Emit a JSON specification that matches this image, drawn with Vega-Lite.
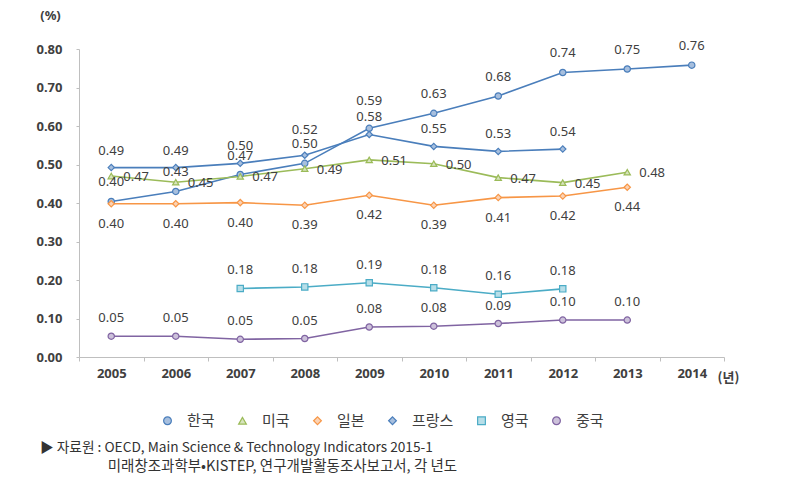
{
  "$schema": "https://vega.github.io/schema/vega-lite/v6.json",
  "width": 645,
  "height": 308,
  "autosize": {"type": "none"},
  "padding": {"left": 79, "top": 49, "right": 63, "bottom": 141},
  "background": "white",
  "title": {
    "text": "▶ 자료원 : OECD, Main Science & Technology Indicators 2015-1",
    "subtitle": "\u200b\u3000\u3000\u3000\u3000\u00a0\u00a0\u00a0미래창조과학부•KISTEP, 연구개발활동조사보고서, 각 년도",
    "orient": "bottom",
    "anchor": "start",
    "frame": "group",
    "dx": -39,
    "offset": 12,
    "font": "Noto Sans CJK KR",
    "fontSize": 13.7,
    "fontWeight": "normal",
    "color": "#333333",
    "subtitleFont": "Noto Sans CJK KR",
    "subtitleFontSize": 14.5,
    "subtitleColor": "#333333",
    "subtitlePadding": 5
  },
  "data": {
    "values": [
      {"country": "한국", "year": "2005", "value": 0.404},
      {"country": "한국", "year": "2006", "value": 0.43},
      {"country": "한국", "year": "2007", "value": 0.474},
      {"country": "한국", "year": "2008", "value": 0.503},
      {"country": "한국", "year": "2009", "value": 0.594},
      {"country": "한국", "year": "2010", "value": 0.633},
      {"country": "한국", "year": "2011", "value": 0.678},
      {"country": "한국", "year": "2012", "value": 0.739},
      {"country": "한국", "year": "2013", "value": 0.748},
      {"country": "한국", "year": "2014", "value": 0.758},
      {"country": "미국", "year": "2005", "value": 0.47},
      {"country": "미국", "year": "2006", "value": 0.454},
      {"country": "미국", "year": "2007", "value": 0.469},
      {"country": "미국", "year": "2008", "value": 0.489},
      {"country": "미국", "year": "2009", "value": 0.512},
      {"country": "미국", "year": "2010", "value": 0.502},
      {"country": "미국", "year": "2011", "value": 0.466},
      {"country": "미국", "year": "2012", "value": 0.453},
      {"country": "미국", "year": "2013", "value": 0.48},
      {"country": "일본", "year": "2005", "value": 0.398},
      {"country": "일본", "year": "2006", "value": 0.398},
      {"country": "일본", "year": "2007", "value": 0.401},
      {"country": "일본", "year": "2008", "value": 0.394},
      {"country": "일본", "year": "2009", "value": 0.42},
      {"country": "일본", "year": "2010", "value": 0.394},
      {"country": "일본", "year": "2011", "value": 0.414},
      {"country": "일본", "year": "2012", "value": 0.418},
      {"country": "일본", "year": "2013", "value": 0.441},
      {"country": "프랑스", "year": "2005", "value": 0.492},
      {"country": "프랑스", "year": "2006", "value": 0.492},
      {"country": "프랑스", "year": "2007", "value": 0.503},
      {"country": "프랑스", "year": "2008", "value": 0.524},
      {"country": "프랑스", "year": "2009", "value": 0.578},
      {"country": "프랑스", "year": "2010", "value": 0.547},
      {"country": "프랑스", "year": "2011", "value": 0.534},
      {"country": "프랑스", "year": "2012", "value": 0.54},
      {"country": "영국", "year": "2007", "value": 0.178},
      {"country": "영국", "year": "2008", "value": 0.182},
      {"country": "영국", "year": "2009", "value": 0.193},
      {"country": "영국", "year": "2010", "value": 0.18},
      {"country": "영국", "year": "2011", "value": 0.163},
      {"country": "영국", "year": "2012", "value": 0.177},
      {"country": "중국", "year": "2005", "value": 0.054},
      {"country": "중국", "year": "2006", "value": 0.054},
      {"country": "중국", "year": "2007", "value": 0.046},
      {"country": "중국", "year": "2008", "value": 0.048},
      {"country": "중국", "year": "2009", "value": 0.078},
      {"country": "중국", "year": "2010", "value": 0.08},
      {"country": "중국", "year": "2011", "value": 0.087},
      {"country": "중국", "year": "2012", "value": 0.096},
      {"country": "중국", "year": "2013", "value": 0.096}
    ]
  },
  "encoding": {
    "x": {
      "field": "year",
      "type": "ordinal",
      "scale": {"type": "band", "paddingInner": 0, "paddingOuter": 0},
      "axis": {
        "title": "(년)",
        "titleAngle": 0,
        "titleX": 649,
        "titleY": 20,
        "titleAlign": "center",
        "titleBaseline": "middle",
        "titleFont": "Noto Sans CJK KR",
        "titleFontSize": 13,
        "titleFontWeight": "bold",
        "titleColor": "#404040",
        "labelAngle": 0,
        "tickBand": "extent",
        "tickSize": 4,
        "tickColor": "#BFBFBF",
        "domainColor": "#BFBFBF",
        "labelPadding": 6,
        "labelFont": "Noto Sans",
        "labelFontSize": 13,
        "labelFontWeight": "bold",
        "labelColor": "#404040"
      }
    },
    "y": {
      "field": "value",
      "type": "quantitative",
      "scale": {"domain": [0, 0.8], "nice": false},
      "axis": {
        "title": "(%)",
        "titleAngle": 0,
        "titleX": -29,
        "titleY": -34,
        "titleAlign": "center",
        "titleBaseline": "middle",
        "titleFont": "Noto Sans",
        "titleFontSize": 13,
        "titleFontWeight": "bold",
        "titleColor": "#404040",
        "values": [0, 0.1, 0.2, 0.3, 0.4, 0.5, 0.6, 0.7, 0.8],
        "format": ".2f",
        "grid": false,
        "tickSize": 3,
        "tickColor": "#BFBFBF",
        "domainColor": "#BFBFBF",
        "labelPadding": 14,
        "labelFont": "Noto Sans",
        "labelFontSize": 13,
        "labelFontWeight": "bold",
        "labelColor": "#404040"
      }
    }
  },
  "layer": [
    {
      "mark": {"type": "line", "strokeWidth": 1.6},
      "encoding": {
        "stroke": {
          "field": "country",
          "type": "nominal",
          "scale": {
            "domain": ["한국", "미국", "일본", "프랑스", "영국", "중국"],
            "range": ["#4A7EBB", "#9BBB59", "#F79646", "#4A7EBB", "#4BACC6", "#8064A2"]
          }
        },
        "detail": {"field": "country"}
      }
    },
    {
      "mark": {"type": "point", "size": 40, "strokeWidth": 1.2, "opacity": 1, "filled": false},
      "encoding": {
        "stroke": {
          "field": "country",
          "type": "nominal",
          "legend": {
            "title": null,
            "orient": "none",
            "direction": "horizontal",
            "legendX": 81,
            "legendY": 364,
            "padding": 0,
            "symbolSize": 60,
            "symbolStrokeWidth": 1.2,
            "labelFont": "Noto Sans CJK KR",
            "labelFontSize": 15,
            "labelColor": "#404040",
            "labelOffset": 12,
            "columnPadding": 20
          }
        },
        "fill": {
          "field": "country",
          "type": "nominal",
          "scale": {
            "domain": ["한국", "미국", "일본", "프랑스", "영국", "중국"],
            "range": ["#A7BFDE", "#D7E4BD", "#FBD3B5", "#A7BFDE", "#B7DEE8", "#CCC1DA"]
          }
        },
        "shape": {
          "field": "country",
          "type": "nominal",
          "legend": null,
          "scale": {
            "domain": ["한국", "미국", "일본", "프랑스", "영국", "중국"],
            "range": ["circle", "triangle-up", "diamond", "diamond", "square", "circle"]
          }
        }
      }
    },
    {
      "transform": [{"filter": "datum.country === '한국' && datum.year !== '2009'"}],
      "mark": {"type": "text", "dy": -19, "font": "Noto Sans", "fontSize": 13, "color": "#404040", "baseline": "middle"},
      "encoding": {"text": {"field": "value", "type": "quantitative", "format": ".2f"}}
    },
    {
      "transform": [{"filter": "datum.country === '한국' && datum.year === '2009'"}],
      "mark": {"type": "text", "dy": -27, "font": "Noto Sans", "fontSize": 13, "color": "#404040", "baseline": "middle"},
      "encoding": {"text": {"field": "value", "type": "quantitative", "format": ".2f"}}
    },
    {
      "transform": [{"filter": "datum.country === '프랑스' && datum.year !== '2008'"}],
      "mark": {"type": "text", "dy": -17, "font": "Noto Sans", "fontSize": 13, "color": "#404040", "baseline": "middle"},
      "encoding": {"text": {"field": "value", "type": "quantitative", "format": ".2f"}}
    },
    {
      "transform": [{"filter": "datum.country === '프랑스' && datum.year === '2008'"}],
      "mark": {"type": "text", "dy": -25, "font": "Noto Sans", "fontSize": 13, "color": "#404040", "baseline": "middle"},
      "encoding": {"text": {"field": "value", "type": "quantitative", "format": ".2f"}}
    },
    {
      "transform": [{"filter": "datum.country === '미국'"}],
      "mark": {"type": "text", "dx": 12, "dy": 1, "align": "left", "font": "Noto Sans", "fontSize": 13, "color": "#404040", "baseline": "middle"},
      "encoding": {"text": {"field": "value", "type": "quantitative", "format": ".2f"}}
    },
    {
      "transform": [{"filter": "datum.country === '일본'"}],
      "mark": {"type": "text", "dy": 20, "font": "Noto Sans", "fontSize": 13, "color": "#404040", "baseline": "middle"},
      "encoding": {"text": {"field": "value", "type": "quantitative", "format": ".2f"}}
    },
    {
      "transform": [{"filter": "datum.country === '영국' || datum.country === '중국'"}],
      "mark": {"type": "text", "dy": -18, "font": "Noto Sans", "fontSize": 13, "color": "#404040", "baseline": "middle"},
      "encoding": {"text": {"field": "value", "type": "quantitative", "format": ".2f"}}
    }
  ],
  "config": {
    "view": {"stroke": null}
  }
}
